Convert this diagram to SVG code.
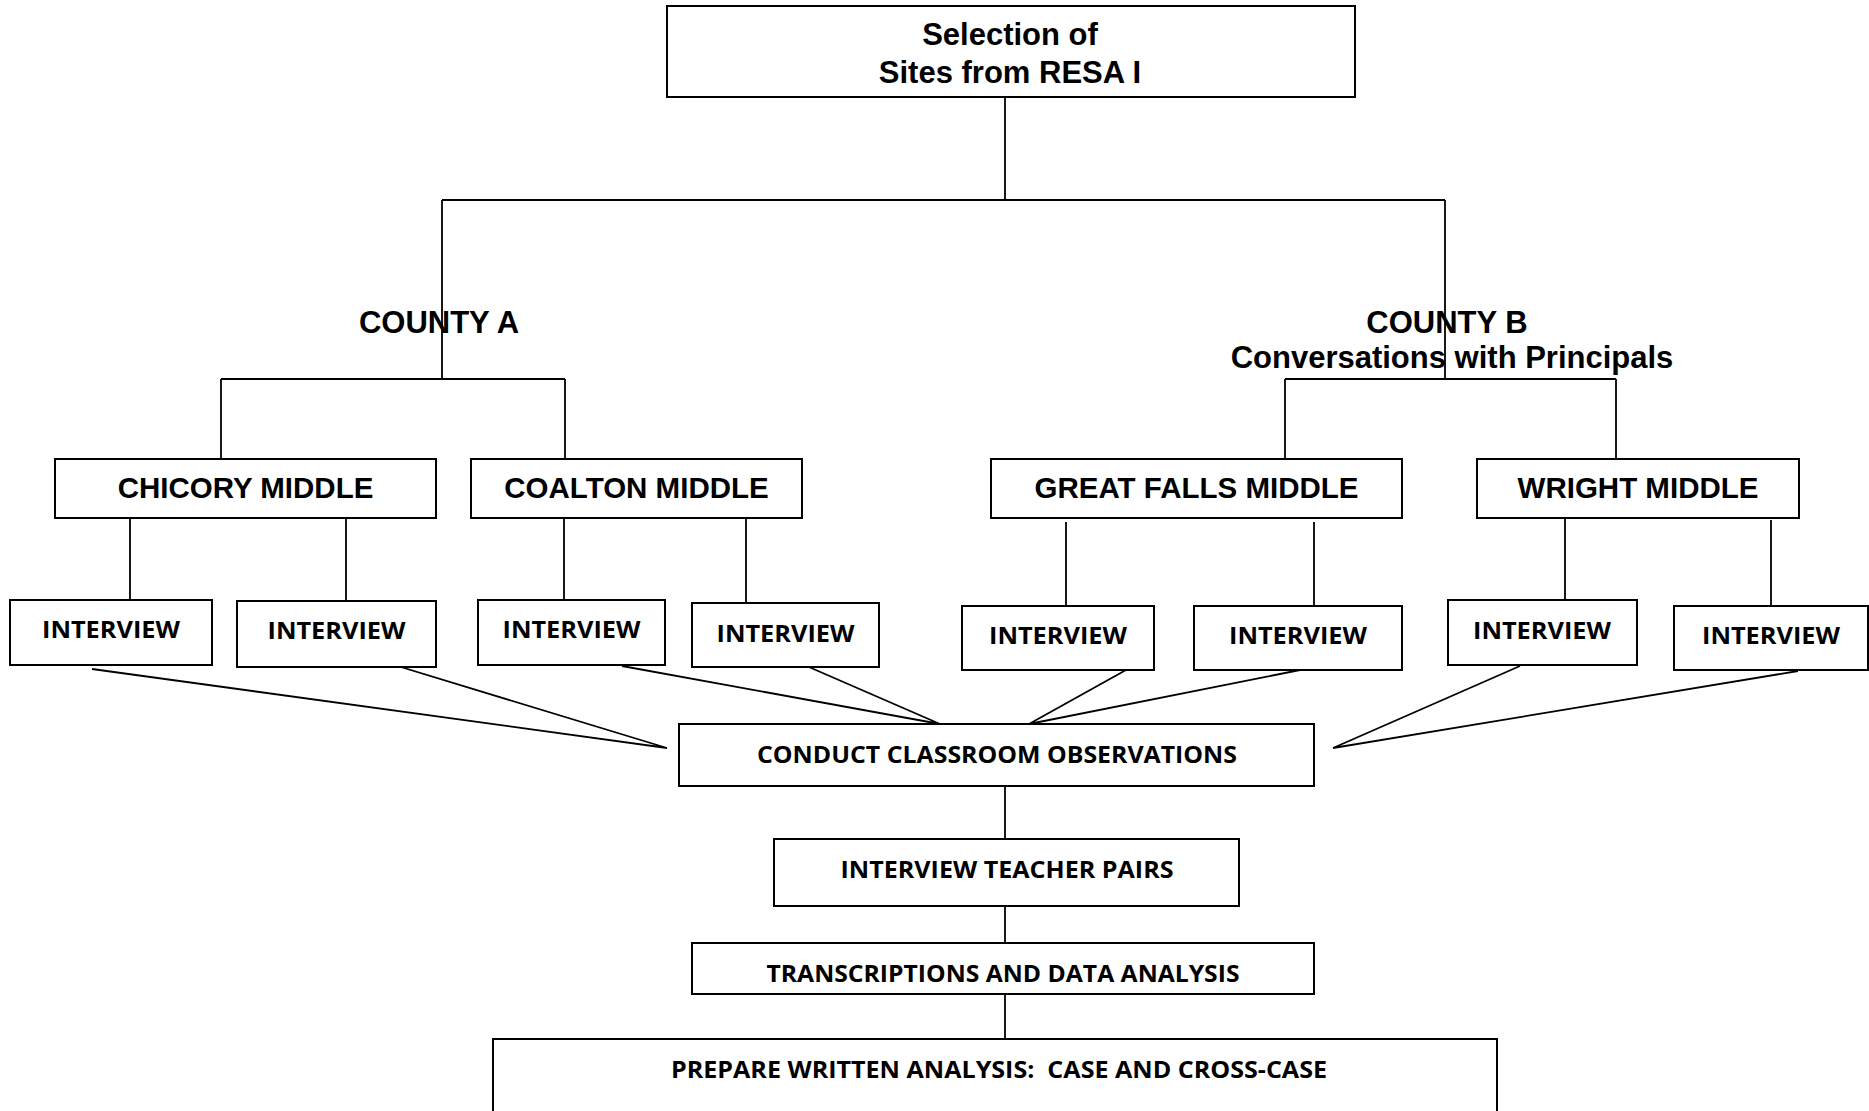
<svg xmlns="http://www.w3.org/2000/svg" width="1869" height="1111" viewBox="0 0 1869 1111">
<style>
.box{fill:#fff;stroke:#000;stroke-width:2}
.ln{stroke:#000;stroke-width:1.8;fill:none}
.a{font-family:"Liberation Sans",Arial,sans-serif;font-weight:bold;font-size:31px;text-anchor:middle;fill:#000}
.m{font-family:"Liberation Sans",Arial,sans-serif;font-weight:bold;font-size:29.5px;text-anchor:middle;fill:#000}
.c{font-family:"Open Sans","Noto Sans",sans-serif;font-weight:bold;font-size:23px;text-anchor:middle;fill:#000}
</style>
<rect width="1869" height="1111" fill="#fff"/>
<g id="connectors">
<path class="ln" d="M1005 97V200M442 200H1445M442 200V379M1445 200V379"/>
<path class="ln" d="M221 379H565M221 379V459M565 379V459"/>
<path class="ln" d="M1285 379H1616M1285 379V459M1616 379V459"/>
<path class="ln" d="M130 518V600M346 518V601M564 518V600M746 518V603"/>
<path class="ln" d="M1066 522V606M1314 522V606M1565 518V600M1771 520V606"/>
<path class="ln" d="M92 669L667 748M391 664L667 748M622 666L940 724M802 664L940 724"/>
<path class="ln" d="M1126 670L1029 724M1300 670L1029 724M1520 666L1333 748M1798 671L1333 748"/>
<path class="ln" d="M1005 786V839M1005 906V943M1005 994V1039"/>
</g>
<g id="n-selection"><rect class="box" x="667" y="6" width="688" height="91"/><text class="a" x="1010" y="45">Selection of</text><text class="a" x="1010" y="83">Sites from RESA I</text></g>
<g id="n-countyA"><text class="a" x="439" y="333">COUNTY A</text></g>
<g id="n-countyB"><text class="a" x="1447" y="333">COUNTY B</text><text class="a" x="1452" y="368">Conversations with Principals</text></g>
<g id="n-chicory"><rect class="box" x="55" y="459" width="381" height="59"/><text class="m" x="245.5" y="498">CHICORY MIDDLE</text></g>
<g id="n-coalton"><rect class="box" x="471" y="459" width="331" height="59"/><text class="m" x="636.5" y="498">COALTON MIDDLE</text></g>
<g id="n-greatfalls"><rect class="box" x="991" y="459" width="411" height="59"/><text class="m" x="1196.5" y="498">GREAT FALLS MIDDLE</text></g>
<g id="n-wright"><rect class="box" x="1477" y="459" width="322" height="59"/><text class="m" x="1638" y="498">WRIGHT MIDDLE</text></g>
<g id="n-int1"><rect class="box" x="10" y="600" width="202" height="65"/><text class="c" x="111" y="638" textLength="138" lengthAdjust="spacingAndGlyphs">INTERVIEW</text></g>
<g id="n-int2"><rect class="box" x="237" y="601" width="199" height="66"/><text class="c" x="336.5" y="639" textLength="138" lengthAdjust="spacingAndGlyphs">INTERVIEW</text></g>
<g id="n-int3"><rect class="box" x="478" y="600" width="187" height="65"/><text class="c" x="571.5" y="638" textLength="138" lengthAdjust="spacingAndGlyphs">INTERVIEW</text></g>
<g id="n-int4"><rect class="box" x="692" y="603" width="187" height="64"/><text class="c" x="785.5" y="642" textLength="138" lengthAdjust="spacingAndGlyphs">INTERVIEW</text></g>
<g id="n-int5"><rect class="box" x="962" y="606" width="192" height="64"/><text class="c" x="1058" y="644" textLength="138" lengthAdjust="spacingAndGlyphs">INTERVIEW</text></g>
<g id="n-int6"><rect class="box" x="1194" y="606" width="208" height="64"/><text class="c" x="1298" y="644" textLength="138" lengthAdjust="spacingAndGlyphs">INTERVIEW</text></g>
<g id="n-int7"><rect class="box" x="1448" y="600" width="189" height="65"/><text class="c" x="1542" y="639" textLength="138" lengthAdjust="spacingAndGlyphs">INTERVIEW</text></g>
<g id="n-int8"><rect class="box" x="1674" y="606" width="194" height="64"/><text class="c" x="1771" y="644" textLength="138" lengthAdjust="spacingAndGlyphs">INTERVIEW</text></g>
<g id="n-conduct"><rect class="box" x="679" y="724" width="635" height="62"/><text class="c" x="997" y="763" textLength="480" lengthAdjust="spacingAndGlyphs">CONDUCT CLASSROOM OBSERVATIONS</text></g>
<g id="n-pairs"><rect class="box" x="774" y="839" width="465" height="67"/><text class="c" x="1007" y="878" textLength="333" lengthAdjust="spacingAndGlyphs">INTERVIEW TEACHER PAIRS</text></g>
<g id="n-transcriptions"><rect class="box" x="692" y="943" width="622" height="51"/><text class="c" x="1003" y="982" textLength="473" lengthAdjust="spacingAndGlyphs">TRANSCRIPTIONS AND DATA ANALYSIS</text></g>
<g id="n-prepare"><rect class="box" x="493" y="1039" width="1004" height="90"/><text class="c" x="999" y="1078" textLength="656" lengthAdjust="spacingAndGlyphs" xml:space="preserve" style="white-space:pre">PREPARE WRITTEN ANALYSIS:  CASE AND CROSS-CASE</text></g>
</svg>
